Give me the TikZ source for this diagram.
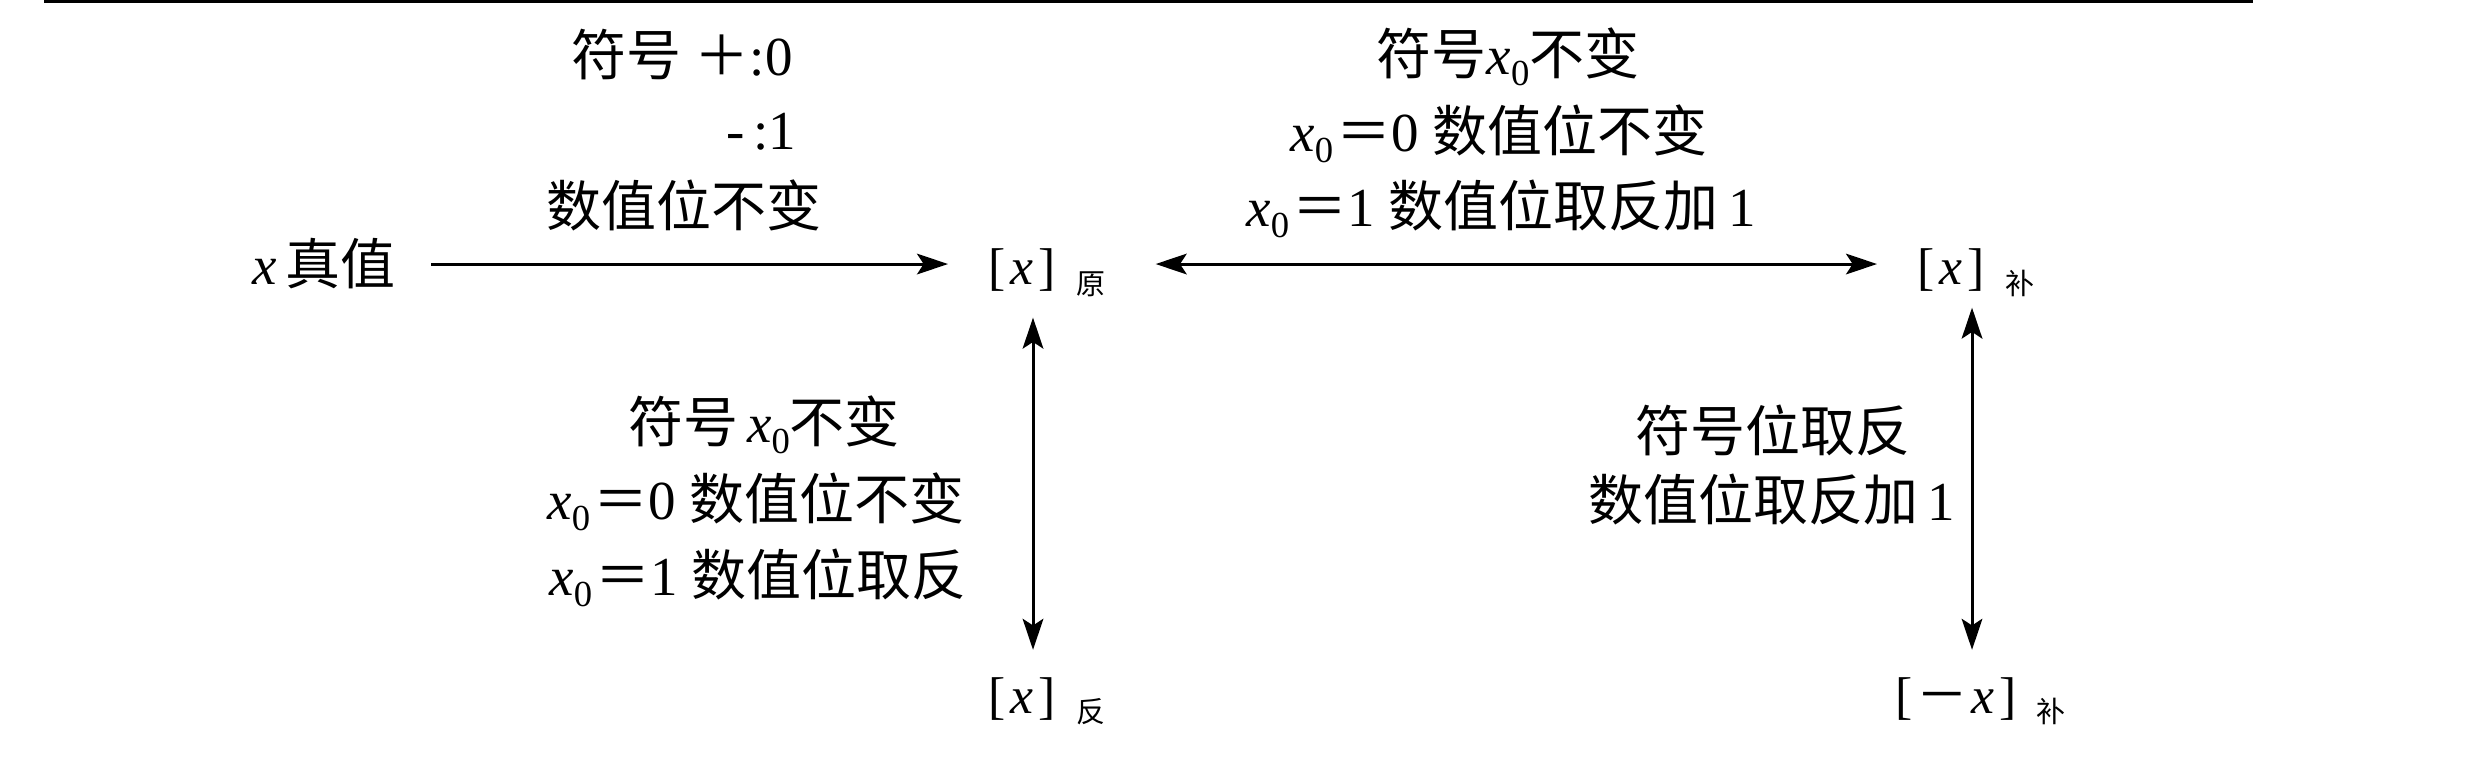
\documentclass[tikz,border=0pt]{standalone}
\usepackage{fontspec}
\setmainfont{Liberation Serif}
\newfontfamily\cjk{Noto Sans CJK SC}
\usetikzlibrary{arrows.meta}
\newcommand{\zh}[1]{{\cjk #1}}
\newcommand{\vx}{\textit{x}}
\newcommand{\vxo}{\textit{x}\raisebox{-0.4ex}{\fontsize{11pt}{11pt}\selectfont 0}}
\newcommand{\eqz}{\hspace{1pt}{\cjk ＝}}
\newcommand{\subzh}[1]{\hspace{6pt}\raisebox{-2.9pt}{\cjk\fontsize{8.7pt}{9pt}\selectfont #1}}
\begin{document}
\begin{tikzpicture}[x=0.3pt,y=-0.3pt,
  lbl/.style={inner sep=0pt, font=\fontsize{16.5pt}{20pt}\selectfont},
  reg/.style={inner sep=0pt, font=\fontsize{15.5pt}{18pt}\selectfont},
  arr/.style={line width=0.9pt, -{Stealth[length=9.3pt,width=6.2pt,inset=2pt]}},
  dbl/.style={line width=0.9pt, {Stealth[length=9.3pt,width=6.2pt,inset=2pt]}-{Stealth[length=9.3pt,width=6.2pt,inset=2pt]}}
]
\path[use as bounding box] (0,0) rectangle (2483,775);
\draw[line width=0.7pt] (44,1.5) -- (2253,1.5);

% main nodes
\node[lbl, anchor=base] (xt) at (324,285) {\vx\,\zh{真值}};
\node[reg, anchor=base west] (yuan) at (988,285) {[\hspace{1.5pt}\vx\hspace{1.5pt}]\subzh{原}};
\node[reg, anchor=base west] (bu) at (1917,285) {[\hspace{1.5pt}\vx\hspace{1.5pt}]\subzh{补}};
\node[reg, anchor=base west] (fan) at (988,713) {[\hspace{1.5pt}\vx\hspace{1.5pt}]\subzh{反}};
\node[reg, anchor=base west] (negbu) at (1895,713) {[\hspace{1pt}{\cjk －}\hspace{1pt}\vx\hspace{1.5pt}]\subzh{补}};

% top-left label
\node[lbl, anchor=base] (tl1) at (682,76) {\zh{符号}\ {\cjk ＋}:0};
\node[lbl, anchor=base east] (tl2) at (797,150) {-\,:1};
\node[lbl, anchor=base] (tl3) at (684,227) {\zh{数值位不变}};

% top-middle label
\node[lbl, anchor=base] (tm1) at (1508,75) {\zh{符号}\vxo\zh{不变}};
\node[lbl, anchor=base] (tm2) at (1499,152) {\vxo\eqz 0\ \zh{数值位不变}};
\node[lbl, anchor=base] (tm3) at (1501,227) {\vxo\eqz 1\ \zh{数值位取反加}\,1};

% left-middle label
\node[lbl, anchor=base] (lm1) at (764,443) {\zh{符号}\,\vxo\zh{不变}};
\node[lbl, anchor=base] (lm2) at (756,520) {\vxo\eqz 0\ \zh{数值位不变}};
\node[lbl, anchor=base] (lm3) at (758,596) {\vxo\eqz 1\ \zh{数值位取反}};

% right-middle label
\node[lbl, anchor=base] (rm1) at (1773,452) {\zh{符号位取反}};
\node[lbl, anchor=base] (rm2) at (1772,521) {\zh{数值位取反加}\,1};

% connectors
\draw[arr, shorten <=10.5pt, shorten >=12pt] (xt.east) -- (xt.east -| yuan.west);
\draw[dbl] (yuan.east |- xt.east) ++(15pt,0) -- ([xshift=-12pt]bu.west |- xt.east);
\draw[dbl, shorten <=6pt, shorten >=8pt] (yuan.south -| 1033,0) -- (fan.north -| 1033,0);
\draw[dbl, shorten <=3pt, shorten >=8pt] (bu.south -| 1972,0) -- (negbu.north -| 1972,0);
\end{tikzpicture}
\end{document}
